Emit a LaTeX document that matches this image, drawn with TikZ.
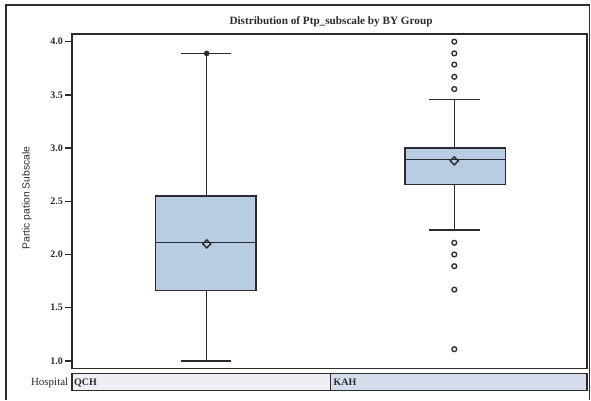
\documentclass[tikz,border=0pt]{standalone}
\usepackage{fontspec}
\setmainfont{Liberation Serif}
\setsansfont{Liberation Sans}
\usetikzlibrary{shapes.geometric}
\definecolor{boxfill}{HTML}{B8CCE4}
\definecolor{stripA}{HTML}{EEEEF4}
\definecolor{stripB}{HTML}{D5DDEC}
\definecolor{ink}{HTML}{2B2B2B}
\tikzset{
  frame/.style={draw=ink, line width=1.3pt},
  boxbody/.style={draw=ink, fill=boxfill, line width=1.3pt},
  whisker/.style={draw=ink, line width=1.3pt},
  outlier/.style={circle, draw=ink, line width=1.3pt, inner sep=0pt, minimum size=4.8pt, fill=white},
  extreme/.style={circle, draw=ink, fill=ink, inner sep=0pt, minimum size=5.2pt},
  meanmark/.style={diamond, draw=ink, line width=1.4pt, inner sep=0pt, minimum width=8.5pt, minimum height=8.5pt},
  ticklabel/.style={anchor=east, font=\bfseries\fontsize{10}{11}\selectfont, inner sep=0pt, text=ink},
  striplabel/.style={anchor=west, font=\bfseries\fontsize{10}{11}\selectfont, inner sep=0pt, text=ink},
}
\begin{document}
\begin{tikzpicture}[x=1pt, y=1pt]
\useasboundingbox (0,0) rectangle (591,400);
% outer frame (open at the bottom edge)
\draw[draw=ink, line width=1.4pt] (6,0) -- (6,395) -- (589.5,395) -- (589.5,0);
% title
\node[font=\bfseries\fontsize{11.2}{13}\selectfont, text=ink] (title) at (331,378.5)
  {Distribution of Ptp\_subscale by BY Group};
% y axis label
\node[rotate=90, font=\sffamily\fontsize{10.3}{12}\selectfont, text=ink] (ylab) at (27,202)
  {Partic pation Subscale};
% plot area
\draw[frame] (72,31.3) rectangle (587,366) coordinate (plottr);
% group strip
\draw[frame, fill=stripA] (72,9.5) rectangle (330.7,26.7);
\draw[frame, fill=stripB] (330.7,9.5) rectangle (587,26.7);
\node[anchor=east, font=\fontsize{11}{12}\selectfont, inner sep=0pt, text=ink] (hosp) at (68.5,17.5) {Hospital};
\node[striplabel] (qch) at (74,17.5) {QCH};
\node[striplabel] (kah) at (333.5,17.5) {KAH};
% data scope: y in value units
\begin{scope}[yshift=-67.3pt, y=106.4pt]
  % axis ticks and labels
  \foreach \v in {1.0,1.5,2.0,2.5,3.0,3.5,4.0}{
    \draw[whisker] (65,\v) -- (72,\v);
    \node[ticklabel] at (63,\v) {\v};
  }
  % QCH box
  \coordinate (qlo) at (206.7,1.0);
  \coordinate (qhi) at (206.7,3.89);
  \draw[boxbody] (155.7,1.66) rectangle (256,2.55);
  \coordinate (qbot) at (206.7,1.66);
  \coordinate (qtop) at (206.7,2.55);
  \draw[whisker] (qbot) -- (qlo);
  \draw[whisker] (qtop) -- (qhi);
  \draw[whisker] (180.7,1.0) -- (231,1.0);
  \draw[whisker] (180.7,3.89) -- (231,3.89);
  \draw[whisker] (155.7,2.11) -- (256,2.11);
  \node[meanmark] (qmean) at (206.7,2.10) {};
  \node[extreme] (qext) at (qhi) {};
  % KAH box
  \coordinate (klo) at (454.3,2.23);
  \coordinate (khi) at (454.3,3.455);
  \draw[boxbody] (405,2.66) rectangle (505.3,3.0);
  \coordinate (kbot) at (454.3,2.66);
  \coordinate (ktop) at (454.3,3.0);
  \draw[whisker] (kbot) -- (klo);
  \draw[whisker] (ktop) -- (khi);
  \draw[whisker] (428.7,2.23) -- (480.3,2.23);
  \draw[whisker] (428.7,3.455) -- (480.3,3.455);
  \draw[whisker] (405,2.89) -- (505.3,2.89);
  \node[meanmark] (kmean) at (454.3,2.88) {};
  % KAH outliers
  \foreach \v [count=\i] in {4.0,3.89,3.785,3.67,3.555,2.11,2.0,1.89,1.67,1.11}{
    \node[outlier] (kout\i) at (454.3,\v) {};
  }
\end{scope}
\end{tikzpicture}
\end{document}
